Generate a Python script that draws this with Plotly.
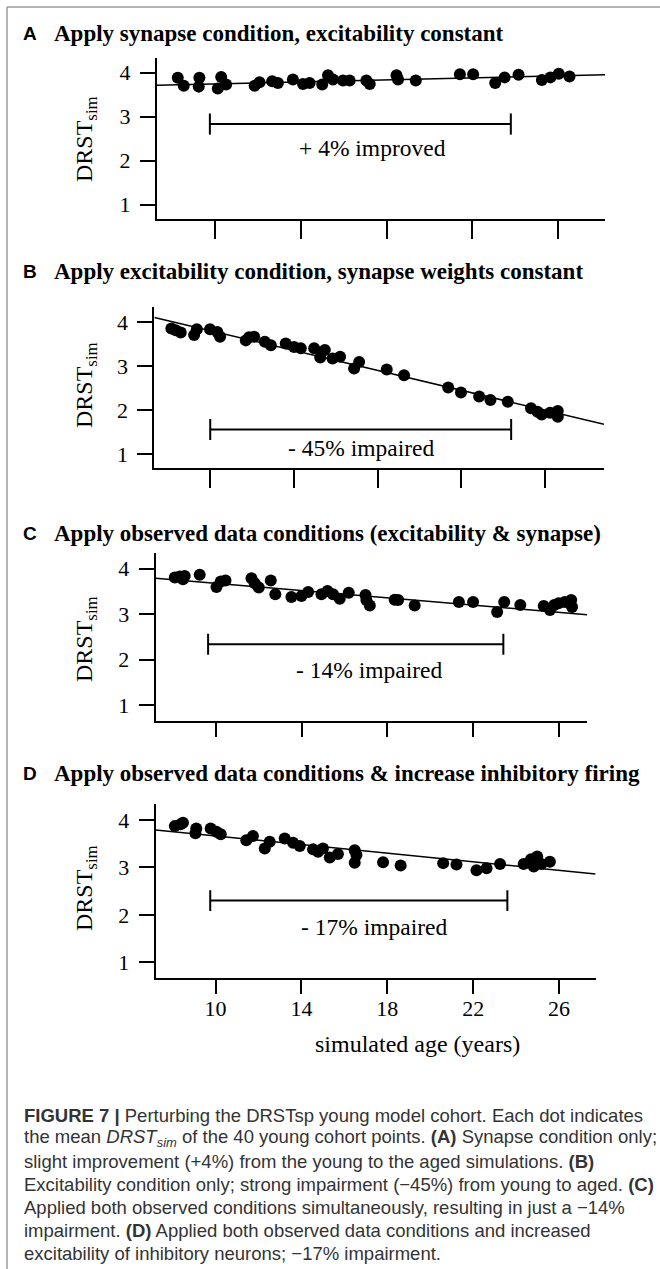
import plotly.graph_objects as go

W, H = 660, 1269

# ---------------- data ----------------
ages_a = [8.24, 8.52, 9.25, 9.22, 10.27, 10.11, 10.5, 11.83, 12.06, 12.65, 12.92, 13.62, 14.09, 14.4,
          14.99, 15.26, 15.49, 15.96, 16.27, 17.05, 17.21, 18.46, 18.53, 19.36, 21.42, 22.04, 23.07,
          23.51, 24.16, 25.25, 25.65, 26.04, 26.54]
drst_a = [3.88, 3.70, 3.88, 3.68, 3.90, 3.64, 3.73, 3.70, 3.78, 3.80, 3.76, 3.84, 3.74, 3.76,
          3.73, 3.94, 3.84, 3.82, 3.82, 3.82, 3.74, 3.94, 3.84, 3.82, 3.96, 3.96, 3.76,
          3.89, 3.95, 3.83, 3.89, 3.97, 3.91]

ages_b = [8.14, 8.35, 8.59, 9.23, 9.36, 9.99, 10.34, 10.47, 11.70, 11.86, 12.10, 12.61, 12.90, 13.61,
          14.01, 14.33, 14.97, 15.26, 15.48, 15.85, 16.21, 16.88, 17.12, 18.44, 19.27, 21.38, 21.99,
          22.86, 23.40, 24.23, 25.34, 25.65, 25.85, 26.25, 26.62, 26.62]
drst_b = [3.85, 3.81, 3.76, 3.70, 3.83, 3.83, 3.77, 3.66, 3.58, 3.65, 3.66, 3.55, 3.47, 3.51,
          3.43, 3.40, 3.40, 3.19, 3.36, 3.17, 3.21, 2.94, 3.09, 2.92, 2.79, 2.51, 2.40,
          2.31, 2.23, 2.19, 2.04, 1.96, 1.90, 1.94, 1.85, 1.98]

ages_c = [8.10, 8.33, 8.48, 8.56, 9.26, 10.04, 10.24, 10.46, 11.67, 11.82, 12.01, 12.57, 12.78, 13.53,
          14.00, 14.31, 14.93, 15.21, 15.47, 15.78, 16.20, 16.98, 17.02, 17.18, 18.34, 18.50, 19.27,
          21.33, 21.99, 23.11, 23.44, 24.19, 25.28, 25.57, 25.77, 25.97, 26.26, 26.56, 26.60]
drst_c = [3.81, 3.83, 3.77, 3.84, 3.87, 3.60, 3.72, 3.74, 3.79, 3.68, 3.59, 3.74, 3.44, 3.38,
          3.40, 3.49, 3.44, 3.51, 3.44, 3.34, 3.47, 3.42, 3.31, 3.19, 3.32, 3.31, 3.19,
          3.27, 3.27, 3.05, 3.27, 3.20, 3.18, 3.09, 3.20, 3.24, 3.27, 3.31, 3.16]

ages_d = [8.10, 8.37, 8.48, 9.10, 9.06, 9.77, 10.04, 10.24, 11.43, 11.74, 12.29, 12.52, 13.22, 13.61,
          13.92, 14.54, 14.77, 15.00, 15.32, 15.70, 16.48, 16.56, 16.48, 17.80, 18.62, 20.60, 21.22,
          22.15, 22.62, 23.25, 24.35, 24.69, 24.82, 24.98, 25.18, 25.57]
drst_d = [3.87, 3.91, 3.94, 3.82, 3.72, 3.82, 3.75, 3.70, 3.57, 3.66, 3.40, 3.54, 3.61, 3.52,
          3.45, 3.38, 3.33, 3.40, 3.21, 3.28, 3.36, 3.26, 3.10, 3.11, 3.04, 3.09, 3.06,
          2.94, 2.98, 3.07, 3.07, 3.17, 3.02, 3.23, 3.07, 3.12]

# trend lines (end values at the axis ends)
trend_a = [3.71, 3.95]
trend_b = [4.10, 1.68]
trend_c = [3.79, 2.99]
trend_d = [3.79, 2.86]

# young -> aged comparison ranges (years)
span_a = [9.74, 23.8]
span_b = [10.0, 24.39]
span_c = [9.65, 23.4]
span_d = [9.75, 23.59]

change_labels = ["+ 4% improved", "- 45% impaired", "- 14% impaired", "- 17% impaired"]
panel_letters = ["A", "B", "C", "D"]
panel_titles = ["Apply synapse condition, excitability constant",
                "Apply excitability condition, synapse weights constant",
                "Apply observed data conditions (excitability & synapse)",
                "Apply observed data conditions & increase inhibitory firing"]
x_ticks = [10, 14, 18, 22, 26]
y_ticks = [1, 2, 3, 4]

caption_lines = [
    "<b>FIGURE 7 |</b> Perturbing the DRSTsp young model cohort. Each dot indicates",
    "the mean <i>DRST<sub>sim</sub></i> of the 40 young cohort points. <b>(A)</b> Synapse condition only;",
    "slight improvement (+4%) from the young to the aged simulations. <b>(B)</b>",
    "Excitability condition only; strong impairment (\u221245%) from young to aged. <b>(C)</b>",
    "Applied both observed conditions simultaneously, resulting in just a \u221214%",
    "impairment. <b>(D)</b> Applied both observed data conditions and increased",
    "excitability of inhibitory neurons; \u221217% impairment.",
]

# ---------------- layout geometry (pixels) ----------------
panels = [
    dict(ages=ages_a, vals=drst_a, trend=trend_a, span=span_a, xpx=(157, 605), ypx=(58, 219),
         xr=(7.27, 28.2), yr=(0.675, 4.33), xtl=18, span_y=2.83, cap=0.24, lab_xy=(17.36, 2.28),
         title_y=33, ylab_y=139),
    dict(ages=ages_b, vals=drst_b, trend=trend_b, span=span_b, xpx=(154.4, 604), ypx=(307.3, 468.3),
         xr=(7.33, 28.83), yr=(0.68, 4.33), xtl=18, span_y=1.56, cap=0.24, lab_xy=(17.2, 1.13),
         title_y=272, ylab_y=385),
    dict(ages=ages_c, vals=drst_c, trend=trend_c, span=span_c, xpx=(155.7, 587.1), ypx=(553.3, 721),
         xr=(7.21, 27.3), yr=(0.65, 4.34), xtl=14, span_y=2.34, cap=0.23, lab_xy=(17.14, 1.78),
         title_y=533, ylab_y=639),
    dict(ages=ages_d, vals=drst_d, trend=trend_d, span=span_d, xpx=(155.7, 595.6), ypx=(804.3, 977.7),
         xr=(7.21, 27.7), yr=(0.675, 4.33), xtl=14, span_y=2.30, cap=0.22, lab_xy=(17.39, 1.75),
         title_y=773, ylab_y=888),
]

SERIF = "Liberation Serif"
SANS = "Liberation Sans"

fig = go.Figure()
layout = dict(width=W, height=H, margin=dict(l=0, r=0, t=0, b=0), paper_bgcolor="white",
              plot_bgcolor="white", showlegend=False)
shapes = []
annotations = []

def px_x(p):
    return p / W

def px_y(p):
    return 1 - p / H

for i, p in enumerate(panels):
    n = "" if i == 0 else str(i + 1)
    xa, ya = "x" + n, "y" + n
    fig.add_trace(go.Scatter(x=list(p["xr"]), y=p["trend"], mode="lines",
                             line=dict(color="black", width=1.5), xaxis=xa, yaxis=ya,
                             hoverinfo="skip"))
    fig.add_trace(go.Scatter(x=p["ages"], y=p["vals"], mode="markers",
                             marker=dict(color="black", size=12, line=dict(width=0)),
                             xaxis=xa, yaxis=ya))
    last = (i == 3)
    layout["xaxis" + n] = dict(domain=[px_x(p["xpx"][0]), px_x(p["xpx"][1])], range=list(p["xr"]),
                               anchor=ya, showline=True, linecolor="black", linewidth=2,
                               ticks="outside", ticklen=p["xtl"], tickwidth=2, tickcolor="black",
                               tickvals=x_ticks, showticklabels=last, showgrid=False, zeroline=False,
                               tickfont=dict(family=SERIF, size=22, color="black"),
                               ticklabelstandoff=-4)
    layout["yaxis" + n] = dict(domain=[px_y(p["ypx"][1]), px_y(p["ypx"][0])], range=list(p["yr"]),
                               anchor=xa, showline=True, linecolor="black", linewidth=2,
                               ticks="outside", ticklen=15, tickwidth=2, tickcolor="black",
                               tickvals=y_ticks, showgrid=False, zeroline=False,
                               tickfont=dict(family=SERIF, size=22, color="black"),
                               ticklabelstandoff=5)
    # bracket
    s0, s1 = p["span"]
    yb = p["span_y"]
    shapes.append(dict(type="line", xref=xa, yref=ya, x0=s0, x1=s1, y0=yb, y1=yb,
                       line=dict(color="black", width=2)))
    for sx in (s0, s1):
        shapes.append(dict(type="line", xref=xa, yref=ya, x0=sx, x1=sx, y0=yb - p["cap"],
                           y1=yb + p["cap"], line=dict(color="black", width=2)))
    annotations.append(dict(x=p["lab_xy"][0], y=p["lab_xy"][1], xref=xa, yref=ya,
                            text=change_labels[i], showarrow=False,
                            font=dict(family=SERIF, size=23.5, color="black")))
    # panel letter + title
    annotations.append(dict(x=px_x(30), y=px_y(p["title_y"]), xref="paper", yref="paper",
                            text="<b>" + panel_letters[i] + "</b>", showarrow=False,
                            xanchor="center", yanchor="middle",
                            font=dict(family=SANS, size=19, color="black")))
    annotations.append(dict(x=px_x(52), y=px_y(p["title_y"]), xref="paper", yref="paper",
                            text="<b>" + panel_titles[i] + "</b>", showarrow=False,
                            xanchor="left", yanchor="middle",
                            font=dict(family=SERIF, size=23, color="black")))
    # y axis title
    annotations.append(dict(x=px_x(86), y=px_y(p["ylab_y"]), xref="paper", yref="paper",
                            text="DRST<sub>sim</sub>", showarrow=False, textangle=-90,
                            xanchor="center", yanchor="middle",
                            font=dict(family=SERIF, size=24, color="black")))

# x axis title
annotations.append(dict(x=px_x(417), y=px_y(1044), xref="paper", yref="paper",
                        text="simulated age (years)", showarrow=False, xanchor="center",
                        yanchor="middle", font=dict(family=SERIF, size=24, color="black")))

# caption
for k, line in enumerate(caption_lines):
    annotations.append(dict(x=px_x(22), y=px_y(1115 + k * 23), xref="paper", yref="paper",
                            text=line, showarrow=False, xanchor="left", yanchor="middle",
                            font=dict(family=SANS, size=18.5, color="#333333")))

# frame lines (top and left)
shapes.append(dict(type="line", xref="paper", yref="paper", x0=px_x(7), x1=1, y0=px_y(7), y1=px_y(7),
                   line=dict(color="#9a9a9a", width=1.5)))
shapes.append(dict(type="line", xref="paper", yref="paper", x0=px_x(7), x1=px_x(7), y0=px_y(7), y1=0,
                   line=dict(color="#9a9a9a", width=1.5)))

layout["shapes"] = shapes
layout["annotations"] = annotations
fig.update_layout(**layout)
fig.write_html("out.html")
